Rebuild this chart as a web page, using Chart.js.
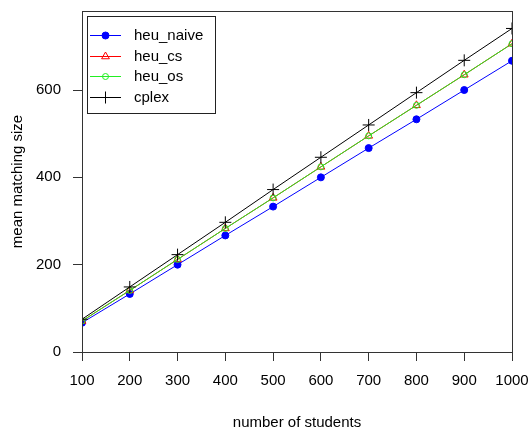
<!DOCTYPE html>
<html>
<head>
<meta charset="utf-8">
<script src="https://cdn.jsdelivr.net/npm/chart.js@4.4.1/dist/chart.umd.min.js"></script>
<style>
  html, body { margin: 0; padding: 0; background: #fff; }
  #wrap { width: 530px; height: 428px; }
</style>
</head>
<body>
<div id="wrap"><canvas id="chart" width="530" height="428"></canvas></div>
<script>
// data
const students = [100, 200, 300, 400, 500, 600, 700, 800, 900, 1000];
const heuNaive = [67, 133, 200, 267, 333, 400, 467, 533, 600, 667];
const heuCs = [71, 141, 212, 283, 353, 424, 495, 565, 635, 706];
const heuOs = [71, 141, 212, 283, 353, 424, 495, 565, 635, 706];
const cplex = [75, 149, 223, 297, 372, 446, 520, 594, 668, 741];
const yTicks = [0, 200, 400, 600];

const FONT = 'Liberation Sans, Arial, sans-serif';
const AXIS_COL = '#333';

const toPoints = vals => vals.map((v, i) => ({ x: students[i], y: v }));

const series = [
  { label: 'heu_naive', data: heuNaive, color: '#0000ff', style: 'circle', radius: 3.5, fill: '#0000ff', order: 4 },
  { label: 'heu_cs', data: heuCs, color: '#ff0000', style: 'triangle', radius: 4.5, fill: 'rgba(0,0,0,0)', order: 3 },
  { label: 'heu_os', data: heuOs, color: '#22ee22', style: 'circle', radius: 3, fill: 'rgba(0,0,0,0)', order: 2 },
  { label: 'cplex', data: cplex, color: '#000000', style: 'cross', radius: 6, fill: '#000000', order: 1 }
];

// no automatic label padding, the layout padding decides the plot box
const fixWidth = w => scale => {
  scale.width = w;
  scale.paddingTop = scale.paddingBottom = scale.paddingLeft = scale.paddingRight = 0;
};
const fixHeight = h => scale => {
  scale.height = h;
  scale.paddingTop = scale.paddingBottom = scale.paddingLeft = scale.paddingRight = 0;
};

// box round the plot + legend in the top left corner
const boxAndLegend = {
  id: 'boxAndLegend',
  afterDraw(chart) {
    const { ctx, chartArea: a } = chart;
    ctx.save();
    ctx.strokeStyle = AXIS_COL;
    ctx.lineWidth = 1;
    ctx.strokeRect(a.left + 0.5, a.top + 0.5, a.right - a.left, a.bottom - a.top);

    const lx = 87, ly = 16, lw = 128, lh = 97;
    ctx.fillStyle = '#fff';
    ctx.fillRect(lx, ly, lw, lh);
    ctx.strokeStyle = '#222';
    ctx.strokeRect(lx + 0.5, ly + 0.5, lw, lh);

    ctx.font = '15px ' + FONT;
    ctx.textBaseline = 'middle';
    series.forEach((s, i) => {
      const y = Math.round(35 + i * 20.5) + 0.5;
      ctx.strokeStyle = s.color;
      ctx.lineWidth = 1;
      ctx.beginPath();
      ctx.moveTo(90, y);
      ctx.lineTo(121, y);
      ctx.stroke();
      ctx.fillStyle = s.fill;
      Chart.helpers.drawPoint(ctx, { pointStyle: s.style, radius: s.radius, borderWidth: 1, rotation: 0 }, 105.5, y);
      ctx.fillStyle = '#000';
      ctx.fillText(s.label, 134, y);
    });
    ctx.restore();
  }
};

new Chart(document.getElementById('chart'), {
  type: 'line',
  data: {
    datasets: series.map(s => ({
      label: s.label,
      data: toPoints(s.data),
      borderColor: s.color,
      backgroundColor: s.fill,
      borderWidth: 1,
      pointStyle: s.style,
      pointRadius: s.radius,
      pointBorderColor: s.color,
      pointBackgroundColor: s.fill,
      pointBorderWidth: 1,
      tension: 0,
      fill: false,
      order: s.order
    }))
  },
  options: {
    responsive: false,
    animation: false,
    layout: { padding: { top: 11, right: 18, left: 0, bottom: 0 } },
    plugins: { legend: { display: false }, tooltip: { enabled: false } },
    scales: {
      x: {
        type: 'linear',
        min: 100,
        max: 1000,
        afterBuildTicks: scale => { scale.ticks = students.map(v => ({ value: v })); },
        afterFit: fixHeight(76),
        border: { display: false },
        grid: { display: true, drawOnChartArea: false, drawTicks: true, tickLength: 9, color: AXIS_COL },
        ticks: { color: '#000', font: { family: FONT, size: 15 }, padding: 11, maxRotation: 0, autoSkip: false,
                 callback: v => String(v) },
        title: { display: true, text: 'number of students', color: '#000', font: { family: FONT, size: 15 }, padding: { top: 0, bottom: -4 } }
      },
      y: {
        type: 'linear',
        min: 0,
        max: 781,
        afterBuildTicks: scale => { scale.ticks = yTicks.map(v => ({ value: v })); },
        afterFit: fixWidth(82),
        border: { display: false },
        grid: { display: true, drawOnChartArea: false, drawTicks: true, tickLength: 9, color: AXIS_COL },
        ticks: { color: '#000', font: { family: FONT, size: 15 }, padding: 12, callback: v => String(v) },
        title: { display: true, text: 'mean matching size', color: '#000', font: { family: FONT, size: 15 }, padding: { top: 9, bottom: 0 } }
      }
    }
  },
  plugins: [boxAndLegend]
});
</script>
</body>
</html>
